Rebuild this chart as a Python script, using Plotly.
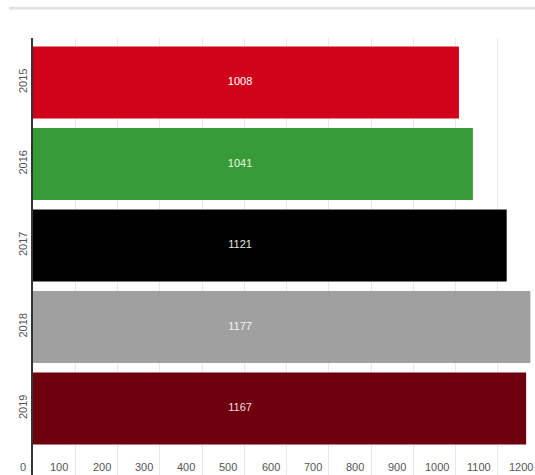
import plotly.graph_objects as go

# Yearly totals
years = ["2015", "2016", "2017", "2018", "2019"]
totals = [1008, 1041, 1121, 1177, 1167]
bar_colors = ["#d0021b", "#379b37", "#000000", "#a0a0a0", "#6e000e"]
label_colors = ["#ffffff", "#e8f5e0", "#e6e6e6", "#f2f2f2", "#f5dede"]

# value-axis tick labels
x_ticks = [0, 100, 200, 300, 400, 500, 600, 700, 800, 900, 1000, 1100, 1200]

X_MAX = 1188  # visible end of the value axis

fig = go.Figure()

fig.add_trace(go.Bar(
    y=years,
    x=totals,
    orientation="h",
    marker=dict(color=bar_colors, line=dict(width=0)),
    width=0.885,
    hoverinfo="skip",
))

# value labels, all set at the same horizontal spot
fig.add_trace(go.Scatter(
    y=years,
    x=[490] * len(years),
    mode="text",
    text=[str(v) for v in totals],
    textfont=dict(family="Liberation Sans, Arial, sans-serif", size=11, color=label_colors),
    hoverinfo="skip",
    cliponaxis=False,
))

# x tick labels sit right-aligned just before each grid line;
# placed in paper units so the last one past the axis end still shows
for v in x_ticks:
    fig.add_annotation(
        x=v / X_MAX, xref="paper",
        y=0.018, yref="paper",
        text=str(v),
        showarrow=False,
        xanchor="right", yanchor="middle",
        xshift=-5,
        font=dict(family="Liberation Sans, Arial, sans-serif", size=11, color="#555555"),
    )

# thin rule across the top of the chart
fig.add_shape(
    type="line", xref="paper", yref="paper",
    x0=-0.048, x1=1.0, y0=1.068, y1=1.068,
    line=dict(color="#e3e3e3", width=3),
)

fig.update_layout(
    width=535, height=475,
    margin=dict(l=33, r=0, t=38, b=0),
    paper_bgcolor="#ffffff",
    plot_bgcolor="#ffffff",
    showlegend=False,
    bargap=0.115,
)

fig.update_xaxes(
    range=[0, X_MAX],
    dtick=100,
    showgrid=True,
    gridcolor="#e8e8e8",
    gridwidth=1,
    showticklabels=False,
    zeroline=False,
    showline=False,
    fixedrange=True,
)

fig.update_yaxes(
    type="category",
    categoryorder="array",
    categoryarray=years,
    range=[4.816, -0.546],
    showgrid=False,
    showline=True,
    linecolor="#333333",
    linewidth=2,
    tickangle=-90,
    ticks="",
    tickfont=dict(family="Liberation Sans, Arial, sans-serif", size=11, color="#555555"),
    zeroline=False,
    fixedrange=True,
)

fig.write_html("out.html")
